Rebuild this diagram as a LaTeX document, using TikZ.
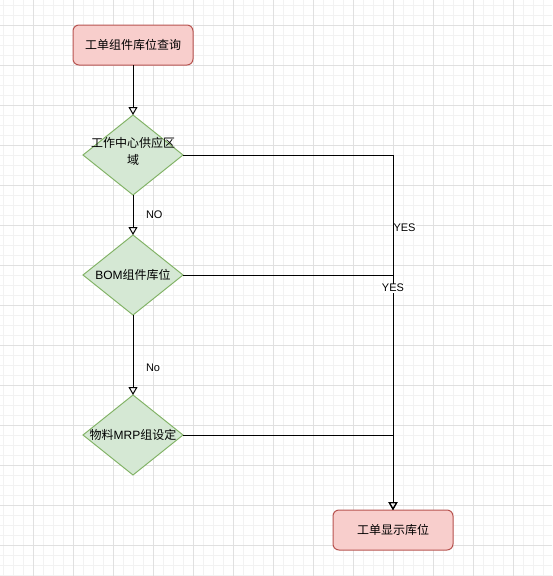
\documentclass[tikz,border=0pt]{standalone}
\usepackage{fontspec}
\setmainfont{Liberation Sans}
\newfontfamily\cjk{Noto Sans CJK SC}
\usetikzlibrary{shapes.geometric,arrows.meta,positioning}
\definecolor{pinkfill}{HTML}{F8CECC}
\definecolor{pinkline}{HTML}{B85450}
\definecolor{greenfill}{HTML}{D5E8D4}
\definecolor{greenline}{HTML}{82B366}
\definecolor{gridminor}{HTML}{F2F2F2}
\definecolor{gridmajor}{HTML}{E0E0E0}

\begin{document}
\begin{tikzpicture}[x=1pt,y=-1pt,line width=1pt,
  every node/.style={font=\fontsize{12}{17}\selectfont},
  endbox/.style={draw=pinkline,fill=pinkfill,rounded corners=6pt,minimum width=120pt,minimum height=40pt,inner sep=0pt,outer sep=0pt},
  decision/.style={diamond,draw=greenline,fill=greenfill,minimum width=100pt,minimum height=80pt,inner sep=0pt,outer sep=0pt},
  flow/.style={-{Triangle[open,length=8pt,width=9pt]}},
  edgelabel/.style={font=\fontsize{11}{13}\selectfont,inner sep=0.5pt,fill=white}]
\useasboundingbox[fill=white] (0,0) rectangle (552,576);
\foreach \x in {3,13,...,553} \draw[gridminor] (\x,0) -- (\x,576);
\foreach \y in {5,15,...,575} \draw[gridminor] (0,\y) -- (552,\y);
\foreach \x in {33,73,...,553} \draw[gridmajor] (\x,0) -- (\x,576);
\foreach \y in {25,65,...,565} \draw[gridmajor] (0,\y) -- (552,\y);

\node[endbox] (start) at (133,45) {\cjk 工单组件库位查询};
\node[decision,below=50pt of start,label={[align=center,yshift=3.5pt,font=\fontsize{12}{17}\cjk]center:{工作中心供应区\\域}}] (d1) {};
\node[decision,below=40pt of d1,label={center:{BOM\cjk 组件库位}}] (d2) {};
\node[decision,below=80pt of d2,label={center:{{\cjk 物料}MRP{\cjk 组设定}}}] (d3) {};
\node[endbox] (done) at (393,530) {\cjk 工单显示库位};

\draw[flow] (start.south) -- (d1.north);
\draw[flow] (d1.south) -- node[edgelabel,right=12pt] (lblno) {NO} (d2.north);
\draw[flow] (d2.south) -- node[edgelabel,pos=0.66,right=12pt] (lbllow) {No} (d3.north);
\draw[flow] (d1.east) -| node[edgelabel,pos=0.603,anchor=west,inner sep=0pt] (yes1) {YES} (done.north);
\draw[flow] (d2.east) -| node[edgelabel,pos=0.528] (yes2) {YES} (done.north);
\draw[flow] (d3.east) -| (done.north);
\end{tikzpicture}
\end{document}
